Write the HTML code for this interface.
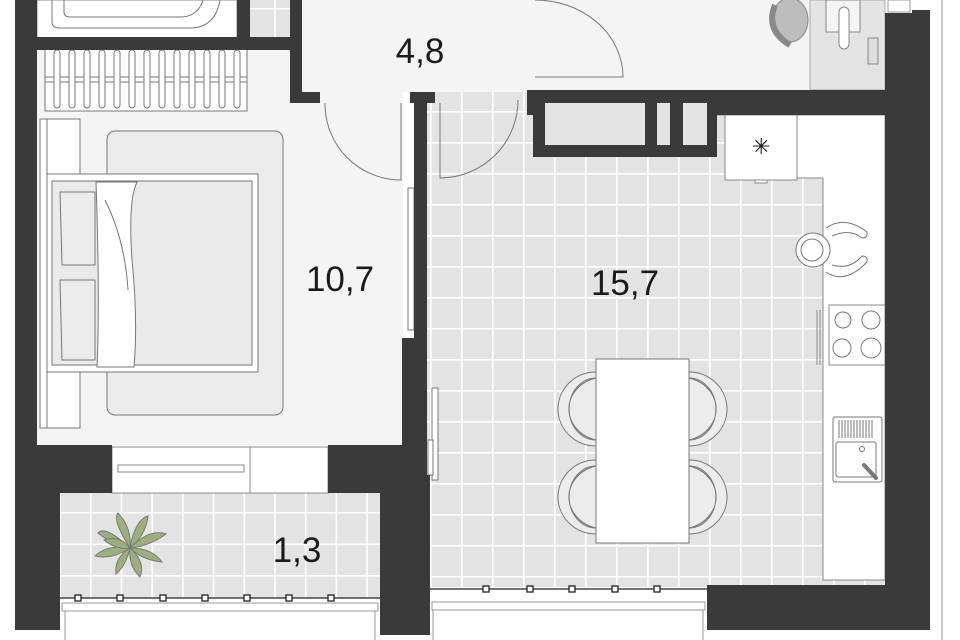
<!DOCTYPE html>
<html><head><meta charset="utf-8"><style>
html,body{margin:0;padding:0;background:#fff;}
svg{display:block;}
text{font-family:"Liberation Sans",sans-serif;fill:#1a1a1a;}
</style></head><body>
<svg width="960" height="640" viewBox="0 0 960 640" xmlns="http://www.w3.org/2000/svg">
<defs>
<pattern id="tk" x="492" y="142" width="31" height="31" patternUnits="userSpaceOnUse">
<rect width="31" height="31" fill="#e3e3e3"/>
<rect x="0" y="0" width="31" height="1.6" fill="#fff"/>
<rect x="0" y="0" width="1.6" height="31" fill="#fff"/>
</pattern>
<pattern id="tb" x="90" y="512" width="30.7" height="31.5" patternUnits="userSpaceOnUse">
<rect width="31" height="32" fill="#e3e3e3"/>
<rect x="0" y="0" width="31" height="1.6" fill="#fff"/>
<rect x="0" y="0" width="1.6" height="32" fill="#fff"/>
</pattern>
</defs>
<rect width="960" height="640" fill="#fff"/>
<rect x="37" y="50" width="366" height="395" fill="#f4f4f4"/>
<rect x="300" y="0" width="585" height="92" fill="#f4f4f4"/>
<rect x="810" y="0" width="75" height="90" fill="#e4e4e4" stroke="#999" stroke-width="0.8"/>
<rect x="427" y="92" width="458" height="495" fill="url(#tk)"/>
<rect x="60" y="493" width="320" height="105" fill="url(#tb)"/>
<rect x="250" y="0" width="40" height="37" fill="url(#tb)"/>
<rect x="37" y="0" width="200" height="38" fill="#fff" stroke="#888"/>
<path d="M52 0 V22 Q52 28 60 28 H190 Q215 28 220 0" fill="none" stroke="#777"/>
<path d="M64 0 V12 Q64 17 70 17 H180 Q198 17 203 0" fill="none" stroke="#777"/>
<path d="M717 115 H885 V580 H823 V178 H797 V180 H725 V115 Z" fill="#fff" stroke="#888"/>
<rect x="725" y="115" width="72" height="65" fill="#fff" stroke="#888"/>
<text x="752" y="154" font-size="22" fill="#555">✳</text>
<rect x="755" y="180" width="12" height="3" fill="#fff" stroke="#888"/>
<rect x="829" y="305" width="56" height="60" fill="#fff" stroke="#888"/>
<circle cx="843" cy="320" r="8" fill="none" stroke="#777"/><circle cx="871" cy="320" r="9" fill="none" stroke="#777"/>
<circle cx="842" cy="348" r="9" fill="none" stroke="#777"/><circle cx="871" cy="348" r="10" fill="none" stroke="#777"/>
<path d="M817 310 V365 M820 310 V365" stroke="#888"/>
<rect x="833" y="417" width="49" height="65" rx="2" fill="#fff" stroke="#777"/>
<rect x="836" y="442" width="40" height="35" rx="2" fill="none" stroke="#777"/>
<path d="M839 420V438M842 420V438M845 420V438M848 420V438M851 420V438M854 420V438M857 420V438M860 420V438M863 420V438M866 420V438M869 420V438M872 420V438" stroke="#777"/>
<circle cx="862" cy="449" r="2.5" fill="none" stroke="#777"/>
<path d="M864 465 L876 478" stroke="#777" stroke-width="4" stroke-linecap="round"/>
<circle cx="813" cy="250" r="17" fill="#fff" stroke="#777"/>
<circle cx="812" cy="250" r="11" fill="none" stroke="#777"/>
<path d="M826 228 Q845 215 867 232 Q868 238 862 238 Q850 228 832 236 M826 272 Q845 285 867 262 Q868 256 862 256 Q850 270 832 265" fill="#fff" stroke="#777"/>
<g stroke="#777">
<path d="M596 372 A38 37 0 0 0 596 446 Z" fill="#ececec"/><path d="M596 378 A36 32 0 0 0 596 440 A26 30 0 0 1 596 378 Z" fill="#bcbcbc"/>
<path d="M596 460 A38 37 0 0 0 596 534 Z" fill="#ececec"/><path d="M596 466 A36 32 0 0 0 596 528 A26 30 0 0 1 596 466 Z" fill="#bcbcbc"/>
<path d="M689 372 A38 37 0 0 1 689 446 Z" fill="#ececec"/><path d="M689 378 A36 32 0 0 1 689 440 A26 30 0 0 0 689 378 Z" fill="#bcbcbc"/>
<path d="M689 460 A38 37 0 0 1 689 534 Z" fill="#ececec"/><path d="M689 466 A36 32 0 0 1 689 528 A26 30 0 0 0 689 466 Z" fill="#bcbcbc"/>
<rect x="596" y="359" width="93" height="184" fill="#fff"/>
</g>
<ellipse cx="790" cy="20" rx="18" ry="22" fill="#bdbdbd" stroke="#888"/>
<path d="M775 5 Q765 30 790 45" fill="none" stroke="#888" stroke-width="6"/>
<rect x="826" y="0" width="34" height="32" fill="#f4f4f4" stroke="#888"/>
<rect x="839" y="7" width="10" height="42" rx="5" fill="#fff" stroke="#888"/>
<rect x="868" y="38" width="10" height="26" fill="#ddd" stroke="#888"/>
<g stroke="#777" fill="none">
<rect x="45" y="48" width="202" height="63" fill="#fff"/>
<path d="M45 77 H247 M45 82 H247"/>
<g fill="#fff">
<rect x="54" y="50" width="6" height="58" rx="3"/><rect x="69" y="50" width="6" height="58" rx="3"/><rect x="84" y="50" width="6" height="58" rx="3"/><rect x="99" y="50" width="6" height="58" rx="3"/><rect x="114" y="50" width="6" height="58" rx="3"/><rect x="129" y="50" width="6" height="58" rx="3"/><rect x="144" y="50" width="6" height="58" rx="3"/><rect x="159" y="50" width="6" height="58" rx="3"/><rect x="174" y="50" width="6" height="58" rx="3"/><rect x="189" y="50" width="6" height="58" rx="3"/><rect x="204" y="50" width="6" height="58" rx="3"/><rect x="219" y="50" width="6" height="58" rx="3"/><rect x="234" y="50" width="6" height="58" rx="3"/>
</g>
<rect x="40" y="119" width="40" height="309" fill="#fff"/>
<path d="M47 119 V428"/>
<rect x="107" y="131" width="176" height="284" rx="8" fill="#ebebeb"/>
<rect x="47" y="174" width="211" height="198" fill="#fff"/>
<rect x="52" y="181" width="200" height="184" fill="#eaeaea"/>
<path d="M60 192 H95 V265 H62 Z M60 280 H95 V360 H62 Z" fill="#ebebeb"/>
<path d="M96 182 H137 Q128 200 132 260 Q138 320 134 367 H97 Q100 300 96 182 Z" fill="#fff"/>
<path d="M105 200 Q125 240 128 290"/>
<rect x="408" y="188" width="6" height="142" fill="#fff"/>
<rect x="432" y="388" width="6" height="92" fill="#fff"/>
<rect x="428" y="440" width="5" height="35" fill="#fff"/>
</g>
<g fill="none" stroke="#777">
<path d="M325 103 A76 76 0 0 0 401 180 V103"/>
<path d="M518 100 A78 78 0 0 1 440 178 V103"/>
<path d="M535 77 H623 A88 77 0 0 0 535 0"/>
</g>
<rect x="112" y="447" width="216" height="46" fill="#fff" stroke="#888"/>
<path d="M250 447 V493" stroke="#888"/>
<rect x="118" y="465" width="126" height="7" fill="#fff" stroke="#888"/>
<g stroke="#7a7a7a" stroke-width="1" fill="#9bb07a">
<path d="M130 548 Q105 525 98 533 Q112 545 130 548 Z"/>
<path d="M130 548 Q112 520 118 513 Q132 528 130 548 Z"/>
<path d="M130 548 Q135 520 148 516 Q146 535 130 548 Z"/>
<path d="M130 548 Q150 528 166 534 Q150 546 130 548 Z"/>
<path d="M130 548 Q152 548 162 562 Q142 560 130 548 Z"/>
<path d="M130 548 Q146 562 140 577 Q128 565 130 548 Z"/>
<path d="M130 548 Q126 566 116 574 Q114 558 130 548 Z"/>
<path d="M130 548 Q112 560 95 556 Q108 544 130 548 Z"/>
<path d="M130 548 Q120 535 104 540 Q116 550 130 548 Z"/>
</g>
<g fill="#3a3a3a">
<rect x="15" y="0" width="22" height="630"/>
<rect x="15" y="445" width="97" height="48"/>
<rect x="15" y="493" width="45" height="137"/>
<rect x="15" y="37" width="287" height="13"/>
<rect x="237" y="0" width="13" height="50"/>
<rect x="290" y="0" width="12" height="103"/>
<rect x="290" y="92" width="30" height="11"/>
<rect x="410" y="92" width="25" height="11"/>
<rect x="414" y="92" width="13" height="246"/>
<rect x="402" y="338" width="25" height="137"/>
<rect x="328" y="445" width="99" height="48"/>
<rect x="380" y="475" width="50" height="160"/>
<rect x="527" y="90" width="358" height="25"/>
<rect x="533" y="90" width="184" height="67"/>
<rect x="885" y="13" width="27" height="617"/>
<rect x="912" y="10" width="18" height="620"/>
<rect x="707" y="585" width="223" height="45"/>
</g>
<g fill="#e3e3e3">
<rect x="545" y="103" width="100" height="42"/>
<rect x="657" y="103" width="13" height="42"/>
<rect x="683" y="103" width="24" height="42"/>
</g>
<rect x="888" y="0" width="22" height="12" fill="#fff" stroke="#999"/>
<path d="M942 0 V640" stroke="#999"/>
<g stroke="#222" stroke-width="1.3">
<path d="M60 598 H380 M430 589 H707"/>
</g>
<g fill="#fff" stroke="#222" stroke-width="1.3">
<rect x="75" y="595" width="6" height="6"/><rect x="117" y="595" width="6" height="6"/><rect x="160" y="595" width="6" height="6"/><rect x="202" y="595" width="6" height="6"/><rect x="244" y="595" width="6" height="6"/><rect x="286" y="595" width="6" height="6"/><rect x="328" y="595" width="6" height="6"/>
<rect x="483" y="586" width="6" height="6"/><rect x="527" y="586" width="6" height="6"/><rect x="569" y="586" width="6" height="6"/><rect x="612" y="586" width="6" height="6"/><rect x="654" y="586" width="6" height="6"/>
</g>
<g fill="#fff" stroke="#999">
<rect x="62" y="603" width="316" height="8"/>
<rect x="432" y="602" width="273" height="8"/>
<path d="M65 611 V640 M375 611 V640 M433 610 V640 M703 610 V640"/>
</g>
<text x="420" y="63" font-size="35" text-anchor="middle">4,8</text>
<text x="340" y="291" font-size="35" text-anchor="middle">10,7</text>
<text x="625" y="295" font-size="35" text-anchor="middle">15,7</text>
<text x="297" y="562" font-size="35" text-anchor="middle">1,3</text>
</svg>
</body></html>
